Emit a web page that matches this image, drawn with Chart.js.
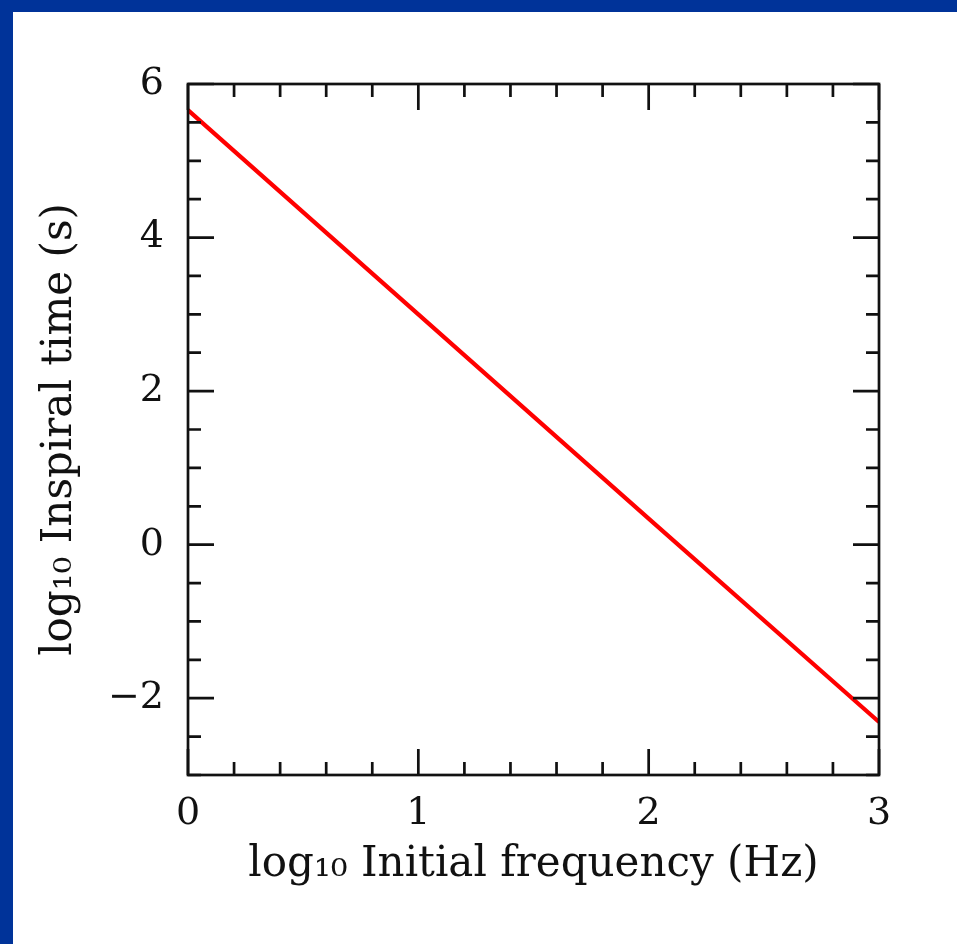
<!DOCTYPE html>
<html>
<head>
<meta charset="utf-8">
<script src="https://cdn.jsdelivr.net/npm/chart.js@4"></script>
<style>
html, body { margin: 0; padding: 0; background: #003399; overflow: hidden; }
#wrap { position: absolute; left: 13px; top: 12px; width: 944px; height: 932px; background: #fff; }
</style>
</head>
<body>
<div id="wrap"><canvas id="c" width="944" height="932"></canvas></div>
<script>
// log10 initial frequency (Hz) vs log10 inspiral time (s)
const freqLog = [0, 1, 2, 3];
const timeLog = [5.66, 3.0, 0.34, -2.31];

const xLabels = [0, 1, 2, 3];
const yLabels = [-2, 0, 2, 4, 6];
const xMinorStep = 0.2;
const yMinorStep = 0.5;

const serif = 'DejaVu Serif';
const ink = '#111';

function fmt(v) {
    return v < 0 ? '\u2212' + Math.abs(v) : String(v);
}

// inward ticks on all four sides plus the frame
const frameTicks = {
    id: 'frameTicks',
    afterDraw(chart) {
        const { ctx, chartArea: a, scales } = chart;
        const xs = scales.x, ys = scales.y;
        ctx.save();
        ctx.strokeStyle = ink;
        ctx.lineWidth = 2.7;
        ctx.lineCap = 'butt';
        ctx.beginPath();
        for (let v = xs.min; v <= xs.max + 1e-9; v += xMinorStep) {
            const major = xLabels.some(l => Math.abs(l - v) < 1e-6);
            const len = major ? 26 : 13;
            const px = xs.getPixelForValue(v);
            ctx.moveTo(px, a.bottom); ctx.lineTo(px, a.bottom - len);
            ctx.moveTo(px, a.top); ctx.lineTo(px, a.top + len);
        }
        for (let v = ys.min; v <= ys.max + 1e-9; v += yMinorStep) {
            const major = yLabels.some(l => Math.abs(l - v) < 1e-6);
            const len = major ? 26 : 13;
            const py = ys.getPixelForValue(v);
            ctx.moveTo(a.left, py); ctx.lineTo(a.left + len, py);
            ctx.moveTo(a.right, py); ctx.lineTo(a.right - len, py);
        }
        ctx.stroke();
        ctx.strokeRect(a.left, a.top, a.right - a.left, a.bottom - a.top);
        ctx.restore();
    }
};

new Chart(document.getElementById('c'), {
    type: 'scatter',
    data: {
        datasets: [{
            data: freqLog.map((f, i) => ({ x: f, y: timeLog[i] })),
            showLine: true,
            borderColor: '#ff0000',
            borderWidth: 4.2,
            pointRadius: 0,
            fill: false
        }]
    },
    options: {
        responsive: false,
        animation: false,
        devicePixelRatio: 1,
        layout: { padding: { top: 72, right: 78, left: 0, bottom: 0 } },
        plugins: { legend: { display: false }, tooltip: { enabled: false } },
        scales: {
            x: {
                type: 'linear',
                min: 0,
                max: 3,
                afterBuildTicks: s => { s.ticks = xLabels.map(v => ({ value: v })); },
                afterFit: s => { s.height = 169; },
                grid: { display: false, drawTicks: false },
                border: { display: false },
                ticks: {
                    color: ink,
                    font: { family: serif, size: 38 },
                    padding: 16,
                    maxRotation: 0,
                    autoSkip: false,
                    callback: v => fmt(v)
                },
                title: {
                    display: true,
                    text: 'log\u2081\u2080 Initial frequency (Hz)',
                    color: ink,
                    font: { family: serif, size: 42 },
                    padding: { top: 0, bottom: 54 }
                }
            },
            y: {
                type: 'linear',
                min: -3,
                max: 6,
                afterBuildTicks: s => { s.ticks = yLabels.map(v => ({ value: v })); },
                afterFit: s => { s.width = 175; },
                grid: { display: false, drawTicks: false },
                border: { display: false },
                ticks: {
                    color: ink,
                    font: { family: serif, size: 38 },
                    padding: 24,
                    autoSkip: false,
                    callback: v => fmt(v)
                },
                title: {
                    display: true,
                    text: 'log\u2081\u2080 Inspiral time (s)',
                    color: ink,
                    font: { family: serif, size: 42 },
                    padding: { top: 22, bottom: 0 }
                }
            }
        }
    },
    plugins: [frameTicks]
});
</script>
</body>
</html>
